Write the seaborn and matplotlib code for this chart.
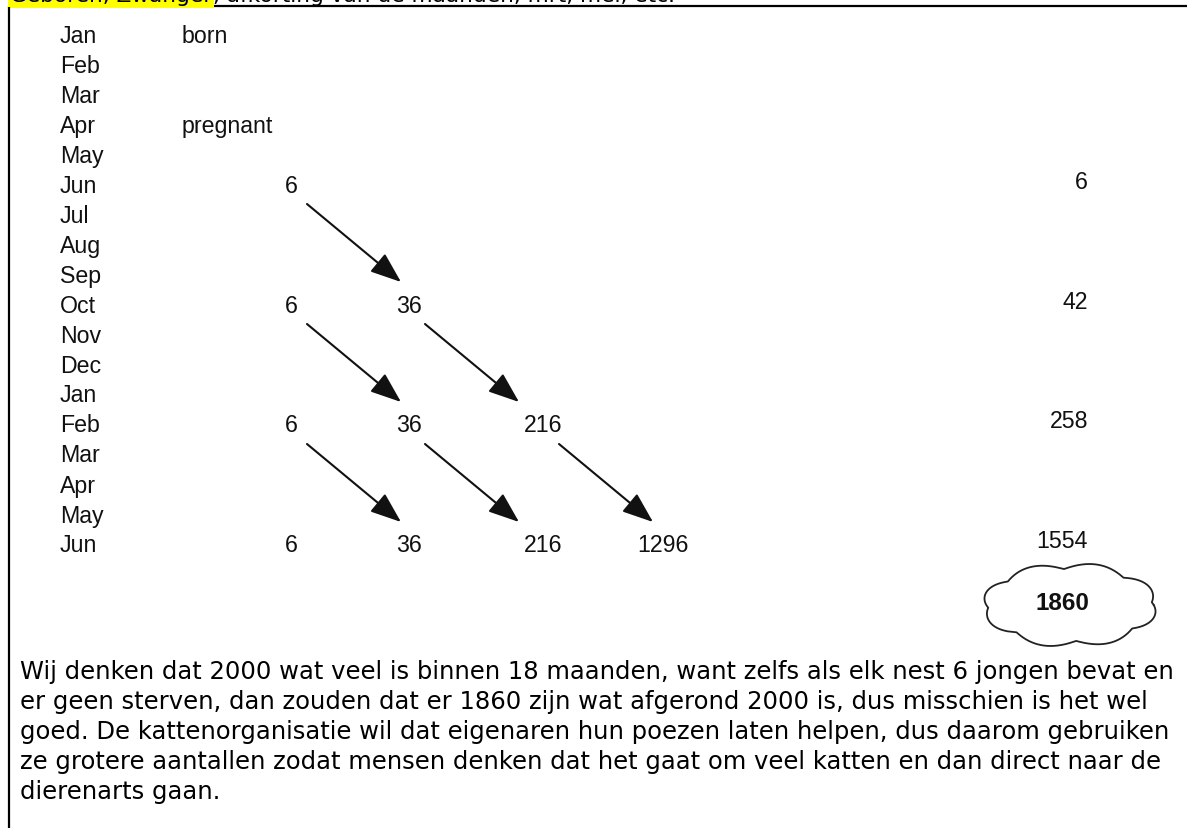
import numpy as np
import matplotlib.pyplot as plt
import seaborn as sns

# data
months = ["Jan", "Feb", "Mar", "Apr", "May", "Jun", "Jul", "Aug", "Sep",
          "Oct", "Nov", "Dec", "Jan", "Feb", "Mar", "Apr", "May", "Jun"]
stage_labels = {0: "born", 3: "pregnant"}
litter_rows = [5, 9, 13, 17]            # month index where a generation count is written
litter_values = [[6], [6, 36], [6, 36, 216], [6, 36, 216, 1296]]
row_totals = [6, 42, 258, 1554]
grand_total = 1860
header_marked = "Geboren, Zwanger"
header_rest = ", afkorting van de maanden, mrt, mei, etc."
paragraph = [
    "Wij denken dat 2000 wat veel is binnen 18 maanden, want zelfs als elk nest 6 jongen bevat en",
    "er geen sterven, dan zouden dat er 1860 zijn wat afgerond 2000 is, dus misschien is het wel",
    "goed. De kattenorganisatie wil dat eigenaren hun poezen laten helpen, dus daarom gebruiken",
    "ze grotere aantallen zodat mensen denken dat het gaat om veel katten en dan direct naar de",
    "dierenarts gaan.",
]

# layout (pixels)
W, H = 1187, 829
ROW_Y0, ROW_STEP = 36, 30
MONTH_X, STAGE_X = 60, 182
COL_X = [291, 409, 543, 663]
TOTAL_X = 1088

sns.set_theme(style="white")
plt.rcParams['font.family'] = ['Liberation Sans', 'DejaVu Sans']

fig = plt.figure(figsize=(W / 100, H / 100), dpi=100)
ax = fig.add_axes([0, 0, 1, 1])
ax.set_xlim(0, W)
ax.set_ylim(H, 0)
ax.axis("off")

def row_y(i):
    return ROW_Y0 + ROW_STEP * i

# header line, cut off at the top like the scan
hdr = ax.text(10, 2, header_marked, fontsize=15.6, family="DejaVu Sans",
              va="baseline", ha="left", color="black",
              bbox=dict(facecolor="#ffff00", edgecolor="none", pad=1.5))
fig.canvas.draw()
ext = hdr.get_window_extent(fig.canvas.get_renderer())
x_end = ax.transData.inverted().transform((ext.x1, ext.y0))[0]
ax.text(x_end + 1, 2, header_rest, fontsize=15.6, family="DejaVu Sans",
        va="baseline", ha="left", color="black")

# frame
ax.plot([9, W], [7, 7], color="black", lw=1.6, solid_capstyle="butt")
ax.plot([9, 9], [7, H], color="black", lw=1.6, solid_capstyle="butt")

fs = 16.7
for i, m in enumerate(months):
    ax.text(MONTH_X, row_y(i), m, fontsize=fs, va="center", ha="left", color="#111111")
for i, lab in stage_labels.items():
    ax.text(STAGE_X, row_y(i), lab, fontsize=fs, va="center", ha="left", color="#111111")

for r, vals in zip(litter_rows, litter_values):
    for g, v in enumerate(vals):
        ax.text(COL_X[g], row_y(r), str(v), fontsize=fs, va="center", ha="center", color="#111111")
        # arrow to the next generation four months later
        if r + 4 <= litter_rows[-1]:
            ax.annotate("", xy=(COL_X[g] + 110, row_y(r + 4) - 23),
                        xytext=(COL_X[g] + 16, row_y(r) + 19),
                        arrowprops=dict(arrowstyle="-|>,head_length=0.95,head_width=0.36",
                                        mutation_scale=20, lw=1.5, color="#111111",
                                        shrinkA=0, shrinkB=0))

for r, t in zip(litter_rows, row_totals):
    ax.text(TOTAL_X, row_y(r) - 4, str(t), fontsize=fs, va="center", ha="right", color="#111111")

# cloud around the grand total
cx, cy, a, b = 1070, 606, 82, 36
th = np.linspace(0, 2 * np.pi, 800)
bump = np.abs(np.sin(4 * th + 0.3))
xs = cx + a * np.cos(th) * (1 + 0.07 * bump)
ys = cy + b * np.sin(th) * (1 + 0.18 * bump)
ax.plot(xs, ys, color="#222222", lw=1.3)
ax.text(1062, 603, str(grand_total), fontsize=17.5, fontweight="bold",
        va="center", ha="center", color="#111111")

# explanation paragraph
for k, line in enumerate(paragraph):
    ax.text(20, 672 + 30 * k, line, fontsize=17.5, family="DejaVu Sans",
            va="center", ha="left", color="black")

fig.savefig("out.png", dpi=100)
